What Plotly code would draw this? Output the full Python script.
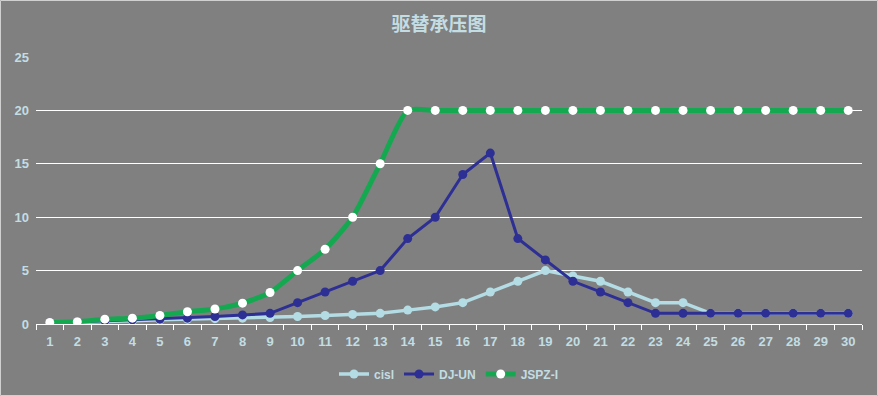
import plotly.graph_objects as go

categories = [str(i) for i in range(1, 31)]
cisl = [0.1, 0.15, 0.2, 0.3, 0.4, 0.45, 0.5, 0.55, 0.6, 0.7, 0.8, 0.9, 1.0, 1.3, 1.6, 2, 3, 4, 5, 4.5,
        4, 3, 2, 2, 1, 1, 1, 1, 1, 1]
dj_un = [0.1, 0.2, 0.3, 0.4, 0.45, 0.55, 0.7, 0.85, 1, 2, 3, 4, 5, 8, 10, 14, 16, 8, 6, 4,
         3, 2, 1, 1, 1, 1, 1, 1, 1, 1]
jspz_i = [0.15, 0.22, 0.45, 0.55, 0.8, 1.15, 1.4, 1.95, 2.95, 5, 7, 10, 15, 20, 20, 20, 20, 20, 20, 20,
          20, 20, 20, 20, 20, 20, 20, 20, 20, 20]
y_ticks = [0, 5, 10, 15, 20, 25]

label_color = "#C3DDE3"
bg = "#808080"

fig = go.Figure()
fig.add_trace(go.Scatter(x=categories, y=cisl, name="cisl", mode="lines+markers",
                         line=dict(color="#B4DCE4", width=3.5),
                         marker=dict(color="#B4DCE4", size=9)))
fig.add_trace(go.Scatter(x=categories, y=dj_un, name="DJ-UN", mode="lines+markers",
                         line=dict(color="#2E2F94", width=3),
                         marker=dict(color="#2E2F94", size=9)))
fig.add_trace(go.Scatter(x=categories, y=jspz_i, name="JSPZ-I", mode="lines+markers",
                         line=dict(color="#14A851", width=5, shape="spline", smoothing=0.6),
                         marker=dict(color="white", size=9)))

W, H = 878, 396
ml, mr, mt, mb = 36, 16, 57, 72
pw, ph = W - ml - mr, H - mt - mb

fig.update_layout(
    width=W, height=H,
    paper_bgcolor=bg, plot_bgcolor=bg,
    margin=dict(l=ml, r=mr, t=mt, b=mb, autoexpand=False),
    title=dict(text="<b>驱替承压图</b>", x=0.5, xanchor="center", y=1 - 24 / H, yanchor="middle",
               font=dict(family="Noto Sans CJK SC", size=19, color=label_color)),
    font=dict(family="Liberation Sans", color=label_color),
    showlegend=True,
    legend=dict(orientation="h", x=0.5, xanchor="center", y=-(374 - 324) / ph, yanchor="middle",
                font=dict(size=12, color=label_color, weight="bold"),
                itemwidth=30, bgcolor="rgba(0,0,0,0)"),
    xaxis=dict(type="category", tickson="boundaries", ticks="outside", ticklen=5,
               tickcolor="white", showline=True, linecolor="white", linewidth=1,
               showgrid=False, tickfont=dict(size=13, color=label_color, weight="bold"),
               ticklabelstandoff=5,
               range=[-0.5, 29.5], zeroline=False),
    yaxis=dict(range=[0, 25], tickvals=y_ticks, showgrid=True, gridcolor="white", gridwidth=1,
               zeroline=False, showline=False, ticks="", ticklabelstandoff=6,
               tickfont=dict(size=13, color=label_color, weight="bold")),
    shapes=[dict(type="rect", xref="paper", yref="paper",
                 x0=-(ml - 0.5) / pw, x1=1 + (mr - 0.5) / pw,
                 y0=-(mb - 0.5) / ph, y1=1 + (mt - 0.5) / ph,
                 line=dict(color="#D0D0D0", width=1), fillcolor="rgba(0,0,0,0)", layer="below")],
)

fig.write_html("out.html", config={"displayModeBar": False},
               post_script="document.body.style.margin='0';")
